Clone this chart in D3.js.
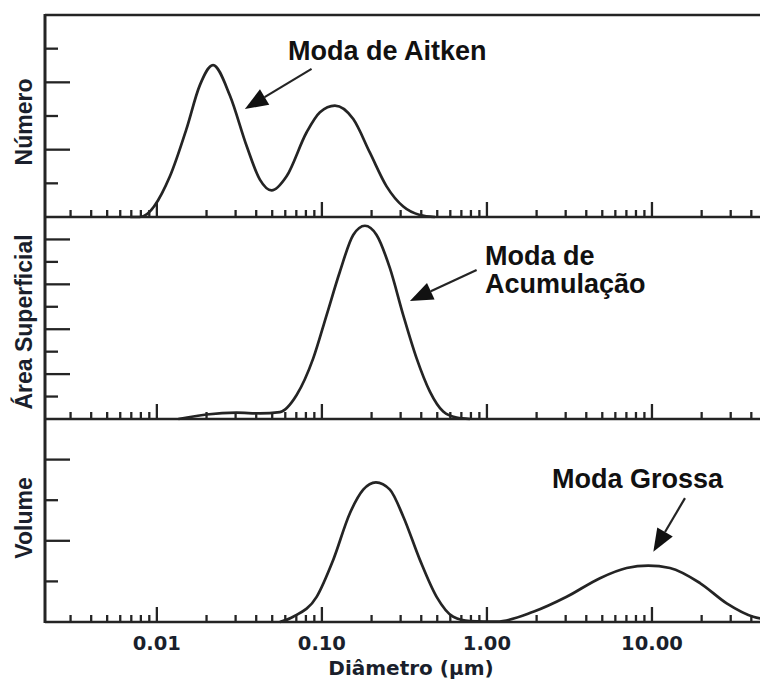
<!DOCTYPE html>
<html>
<head>
<meta charset="utf-8">
<script src="https://cdn.jsdelivr.net/npm/d3@7"></script>
<style>
  html, body { margin: 0; padding: 0; background: #fff; }
  svg { display: block; }
</style>
</head>
<body>
<svg id="chart" width="760" height="679"></svg>
<script>
// Particle size distributions (number, surface area, volume) vs. diameter
const numeroDiam = [0.0069, 0.0079, 0.0120, 0.0151, 0.0182, 0.0219, 0.0277, 0.0350, 0.0421, 0.0496, 0.0611, 0.0807, 0.0973, 0.1199, 0.1549, 0.1954, 0.2466, 0.3112, 0.3926, 0.484];
const numeroVal  = [0, 0, 1.21, 2.61, 3.91, 4.51, 3.61, 2.11, 1.11, 0.79, 1.21, 2.51, 3.11, 3.31, 2.91, 1.91, 0.91, 0.31, 0.06, 0];

const areaDiam = [0.0135, 0.0200, 0.0304, 0.0421, 0.0556, 0.0703, 0.0886, 0.1068, 0.1285, 0.1548, 0.1823, 0.2145, 0.2583, 0.3110, 0.3750, 0.4513, 0.5434, 0.6553, 0.789];
const areaVal  = [0, 0.20, 0.28, 0.25, 0.31, 1.07, 2.70, 4.63, 6.56, 8.20, 8.61, 8.20, 6.72, 4.63, 2.70, 1.22, 0.33, 0.06, 0];

const volumeDiam = [0.0556, 0.0670, 0.0929, 0.1171, 0.1478, 0.1780, 0.2125, 0.2583, 0.3110, 0.3926, 0.4956, 0.6249, 0.789, 1.145, 1.909, 3.041, 4.840, 7.026, 9.497, 12.85, 19.54, 28.37, 41.1, 59.7];
const volumeVal  = [0, 0.13, 0.62, 1.53, 2.68, 3.26, 3.44, 3.26, 2.60, 1.53, 0.62, 0.13, 0.025, 0.01, 0.25, 0.62, 1.08, 1.33, 1.39, 1.33, 0.96, 0.46, 0.13, 0.03];

const panelLabels = ["Número", "Área Superficial", "Volume"];
const panelMax = [6, 9, 5];               // number of y-tick intervals per panel
const xTickValues = [0.01, 0.1, 1, 10];
const xTickLabels = ["0.01", "0.10", "1.00", "10.00"];
const xTitle = "Diâmetro (µm)";

const ink = "#242424";
const textInk = "#1a1f2c";

const svg = d3.select("#chart");

const x = d3.scaleLog().domain([0.0021, 100]).range([45, 817]);
const panelTops = [15, 217, 419];
const panelBottoms = [217, 419, 622];

const panels = [
  { d: numeroDiam, v: numeroVal },
  { d: areaDiam, v: areaVal },
  { d: volumeDiam, v: volumeVal }
];

// minor log ticks (2..9 in each decade) that fall inside the frame
const minorTicks = [];
for (let e = -3; e <= 1; e++) {
  for (let m = 2; m <= 9; m++) minorTicks.push(m * Math.pow(10, e));
}
const visibleMinor = minorTicks.filter(t => x(t) > 50 && x(t) < 770);

const yScales = panels.map((p, i) =>
  d3.scaleLinear().domain([0, panelMax[i]]).range([panelBottoms[i], panelTops[i]]));

panels.forEach((p, i) => {
  const y = yScales[i];
  const g = svg.append("g");

  // x ticks pointing up from the panel's bottom line
  g.selectAll("line.minor").data(visibleMinor).join("line")
    .attr("x1", d => x(d)).attr("x2", d => x(d))
    .attr("y1", y(0)).attr("y2", y(0) - 7)
    .attr("stroke", ink).attr("stroke-width", 2.3);
  g.selectAll("line.major").data(xTickValues).join("line")
    .attr("x1", d => x(d)).attr("x2", d => x(d))
    .attr("y1", y(0)).attr("y2", y(0) - 15)
    .attr("stroke", ink).attr("stroke-width", 2.3);

  // y ticks pointing right from the left border, alternating long/short
  const yt = d3.range(1, panelMax[i]);
  g.selectAll("line.yt").data(yt).join("line")
    .attr("x1", x.range()[0]).attr("x2", d => x.range()[0] + (d % 2 === 0 ? 25 : 13))
    .attr("y1", d => y(d)).attr("y2", d => y(d))
    .attr("stroke", ink).attr("stroke-width", 2.3);

  // distribution curve
  const pts = p.d.map((dv, k) => [x(dv), y(p.v[k])]);
  g.append("path")
    .attr("d", d3.line().curve(d3.curveMonotoneX)(pts))
    .attr("fill", "none").attr("stroke", ink).attr("stroke-width", 2.7);

  // panel bottom line
  g.append("line")
    .attr("x1", x.range()[0]).attr("x2", 760)
    .attr("y1", y(0)).attr("y2", y(0))
    .attr("stroke", ink).attr("stroke-width", 2.7);
});

// top border and left border
svg.append("line").attr("x1", 45).attr("x2", 760).attr("y1", 15).attr("y2", 15)
  .attr("stroke", ink).attr("stroke-width", 2.4);
svg.append("line").attr("x1", 45).attr("x2", 45).attr("y1", 14).attr("y2", 623)
  .attr("stroke", ink).attr("stroke-width", 3);

// y-axis labels
const labelCenters = [122, 322, 518];
panelLabels.forEach((lab, i) => {
  svg.append("text")
    .attr("transform", `translate(32,${labelCenters[i]}) rotate(-90)`)
    .attr("text-anchor", "middle")
    .attr("font-family", "'Liberation Sans', Arial, sans-serif")
    .attr("font-weight", "bold")
    .attr("font-size", 23)
    .attr("fill", textInk)
    .text(lab);
});

// x tick labels
svg.selectAll("text.xl").data(xTickValues).join("text")
  .attr("x", d => x(d)).attr("y", 650)
  .attr("text-anchor", "middle")
  .attr("font-family", "'DejaVu Sans', Verdana, sans-serif")
  .attr("font-weight", "bold")
  .attr("font-size", 19.5)
  .attr("fill", textInk)
  .text((d, i) => xTickLabels[i]);

svg.append("text")
  .attr("x", 411).attr("y", 675)
  .attr("text-anchor", "middle")
  .attr("font-family", "'DejaVu Sans', Verdana, sans-serif")
  .attr("font-weight", "bold")
  .attr("font-size", 20)
  .attr("fill", textInk)
  .text(xTitle);

// annotations with arrows
function arrow(x1, y1, x2, y2) {
  const ang = Math.atan2(y2 - y1, x2 - x1);
  const len = 23, half = 9;
  const bx = x2 - len * Math.cos(ang), by = y2 - len * Math.sin(ang);
  svg.append("line").attr("x1", x1).attr("y1", y1).attr("x2", bx).attr("y2", by)
    .attr("stroke", ink).attr("stroke-width", 2.2);
  const px = -Math.sin(ang) * half, py = Math.cos(ang) * half;
  svg.append("path")
    .attr("d", `M${x2},${y2}L${bx + px},${by + py}L${bx - px},${by - py}Z`)
    .attr("fill", "#111");
}

function note(lines, xPos, yPos) {
  const t = svg.append("text")
    .attr("font-family", "'Liberation Sans', Arial, sans-serif")
    .attr("font-weight", "bold")
    .attr("font-size", 27)
    .attr("fill", "#111");
  lines.forEach((s, k) => {
    t.append("tspan").attr("x", xPos).attr("y", yPos + k * 28).text(s);
  });
}

const yN = yScales[0], yA = yScales[1], yV = yScales[2];

note(["Moda de Aitken"], 288, 60);
arrow(x(0.0866), yN(4.4), x(0.03415), yN(3.21));

note(["Moda de", "Acumulação"], 485, 265);
arrow(x(0.866), yA(6.64), x(0.3415), yA(5.26));

note(["Moda Grossa"], 552, 488);
arrow(x(15.85), yV(3.05), x(10.19), yV(1.73));
</script>
</body>
</html>
